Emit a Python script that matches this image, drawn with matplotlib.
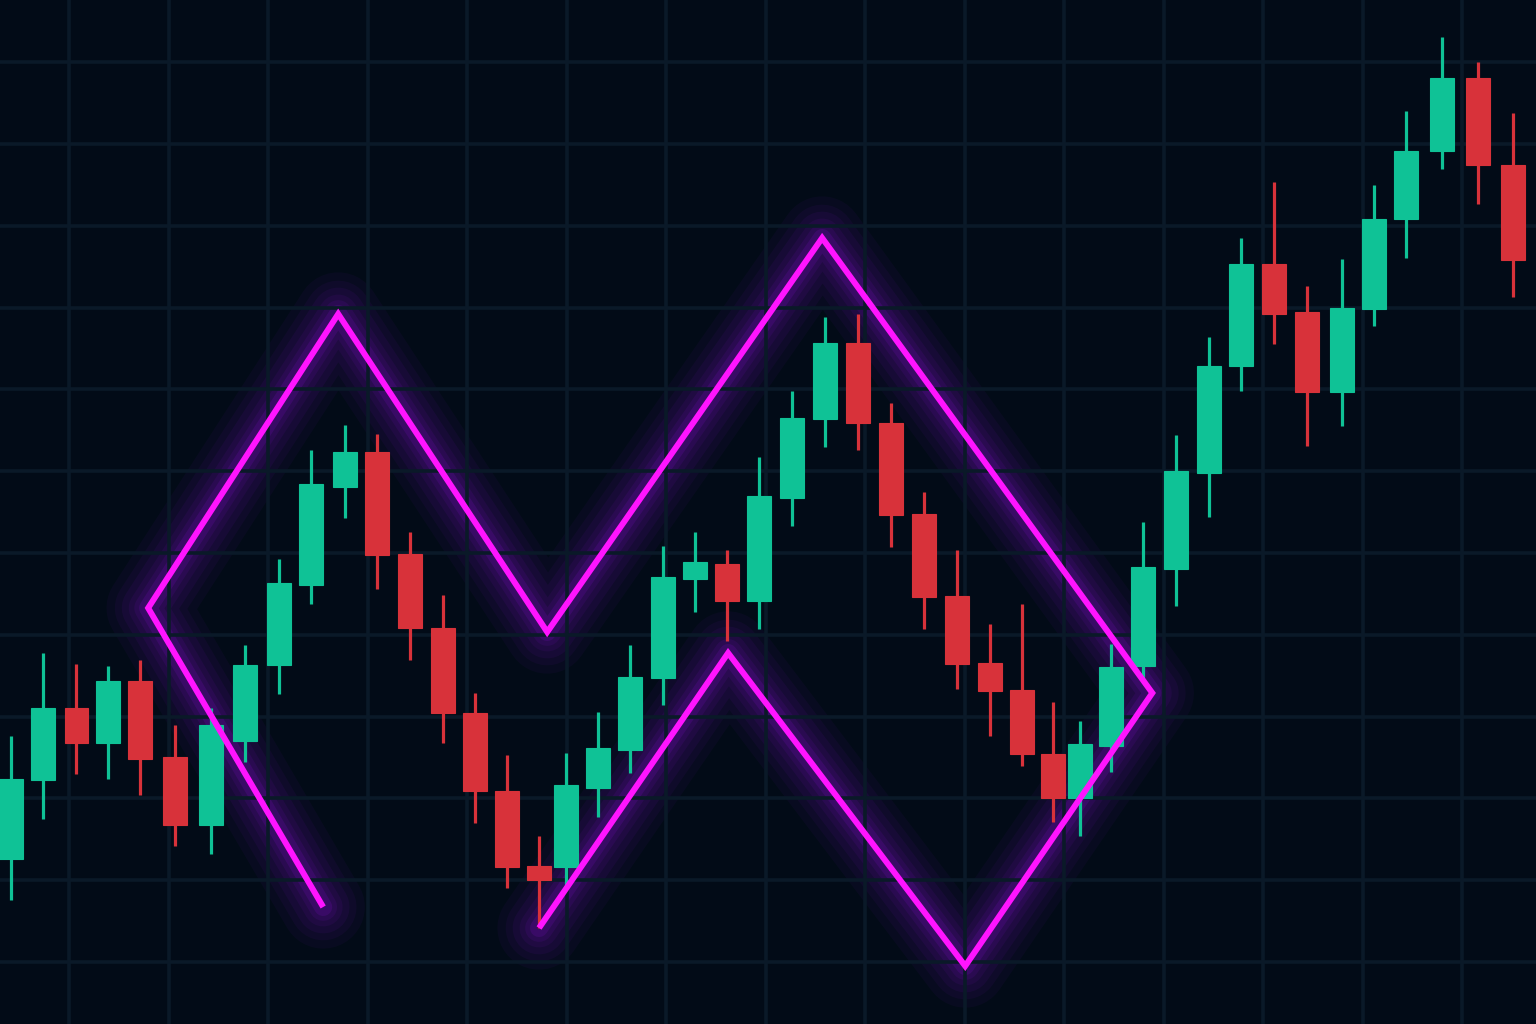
import numpy as np
import matplotlib
matplotlib.use("Agg")
import matplotlib.pyplot as plt
from matplotlib.patches import Rectangle

# candle time positions (bar units) and prices
times = [0.0, 0.98, 2.0, 2.97, 3.95, 5.02, 6.13, 7.17, 8.21, 9.19, 10.23, 11.21, 12.22,
         13.23, 14.21, 15.19, 16.17, 17.0, 17.98, 18.96, 19.97, 20.95, 21.93, 22.91,
         23.92, 24.93, 25.94, 26.95, 27.96, 28.97, 29.98, 30.96, 31.91, 32.74, 33.69,
         34.67, 35.68, 36.69, 37.67, 38.68, 39.69, 40.76, 41.74, 42.72, 43.82, 44.93, 46.0]
opens = [165, 244, 316, 281, 343, 267, 199, 283, 359, 439, 537, 572, 470, 396, 311, 233,
         158, 157, 236, 274, 346, 445, 460, 423, 526, 605, 681, 601, 510, 428, 361, 334,
         270, 226, 278, 358, 455, 551, 658, 760, 712, 632, 715, 805, 873, 946, 859]
closes = [245, 316, 281, 343, 265, 199, 299, 359, 441, 540, 572, 469, 396, 311, 233, 157,
          144, 239, 276, 347, 447, 462, 423, 528, 606, 681, 601, 509, 427, 360, 333, 270,
          226, 280, 357, 457, 553, 658, 760, 710, 632, 716, 805, 873, 946, 859, 764]
highs = [288, 371, 360, 358, 364, 299, 316, 379, 465, 574, 599, 590, 492, 429, 331, 269,
         188, 271, 312, 379, 478, 492, 474, 567, 633, 707, 710, 621, 532, 474, 400, 420,
         322, 303, 380, 502, 589, 687, 786, 842, 738, 765, 839, 913, 987, 962, 911]
lows = [124, 205, 250, 245, 229, 178, 170, 262, 330, 420, 506, 435, 364, 281, 201, 136,
        96, 139, 207, 251, 319, 412, 383, 395, 498, 577, 574, 477, 395, 335, 288, 258,
        202, 188, 252, 346, 418, 507, 633, 680, 578, 598, 698, 766, 855, 820, 727]

# zigzag pattern drawn over the candles
zig_x = [9.56, 4.20, 10.02, 16.42, 24.84, 34.95, 29.22, 21.96, 16.17]
zig_y = [117, 416, 710, 392, 786, 331, 58, 371, 96]

bg = '#020b17'
green = '#0fc296'
red = '#d8323a'
magenta = '#ff14ff'

fig = plt.figure(figsize=(15.36, 10.24), dpi=100, facecolor=bg)
ax = fig.add_axes([0, 0, 1, 1])
ax.set_facecolor(bg)

# grid
ax.set_xticks(1.776 + 3.047 * np.arange(16))
ax.set_yticks(62 + 81.8 * np.arange(12))
ax.grid(True, color='#0a1928', linewidth=2.6, zorder=0)
ax.tick_params(length=0, labelbottom=False, labelleft=False)
for s in ax.spines.values():
    s.set_visible(False)

# soft purple glow under the zigzag
for w, a in [(60, 0.05), (48, 0.06), (38, 0.07), (28, 0.08), (20, 0.1), (13, 0.16)]:
    ax.plot(zig_x, zig_y, color='#8a0fd6', linewidth=w, alpha=a,
            solid_joinstyle='round', solid_capstyle='round', zorder=1)

# candles
bw = 0.72
for i in range(len(opens)):
    o, c, h, l = opens[i], closes[i], highs[i], lows[i]
    t = times[i]
    col = green if c >= o else red
    ax.plot([t, t], [l, h], color=col, linewidth=2.3, solid_capstyle='butt', zorder=3)
    ax.add_patch(Rectangle((t - bw / 2, min(o, c)), bw, abs(c - o),
                           facecolor=col, edgecolor=col, linewidth=0.8, zorder=3.5))

# zigzag line
ax.plot(zig_x, zig_y, color=magenta, linewidth=4.3, solid_joinstyle='miter',
        solid_capstyle='butt', zorder=5)

ax.set_xlim(-0.337, 46.70)
ax.set_ylim(0, 1024)

fig.savefig('out.png', dpi=100, facecolor=bg)
